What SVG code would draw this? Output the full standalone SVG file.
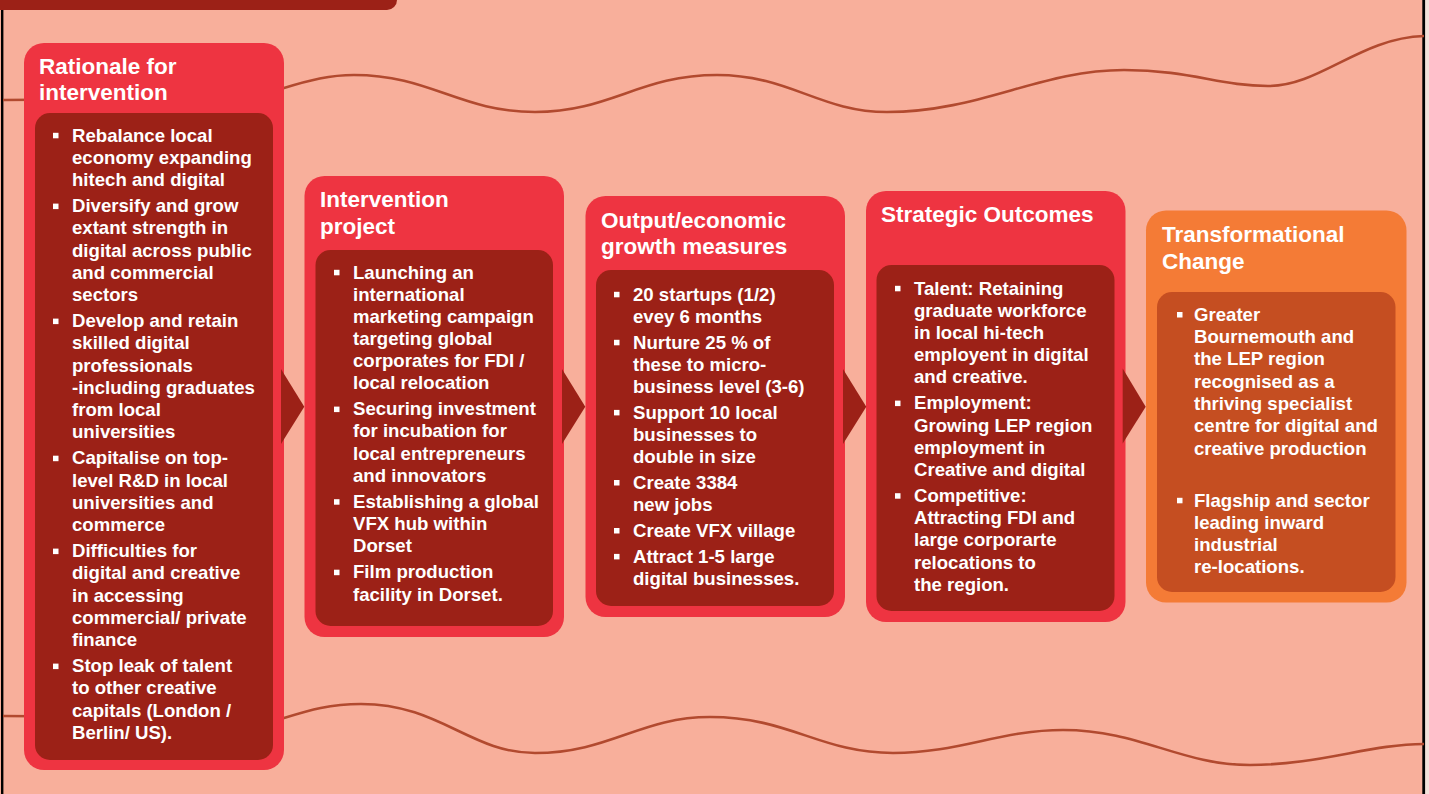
<svg xmlns="http://www.w3.org/2000/svg" width="1429" height="794" viewBox="0 0 1429 794">
<style>
.bg{fill:#F8AF9B}
.wave{fill:none;stroke:#B24A2F;stroke-width:2.6}
.outer{fill:#EE3441}
.inner{fill:#9C2117}
.outerO{fill:#F47B36}
.innerO{fill:#C54E21}
.chev{fill:#9C2117}
.t{font-family:"Liberation Sans",Arial,sans-serif;font-weight:bold;fill:#FFFFFF}
.title{font-size:22.5px}
.b{font-size:18.6px}
.sq{fill:#FFFFFF}
</style>
<rect x="0" y="0" width="1429" height="794" class="bg"/>
<rect x="1424" y="0" width="5" height="794" fill="#F2E1DA"/>
<line x1="2.2" y1="0" x2="2.2" y2="794" stroke="#000" stroke-width="2.4"/>
<line x1="1423.7" y1="0" x2="1423.7" y2="794" stroke="#000" stroke-width="2.8"/>
<path d="M0,0 H397 V0 A10,10 0 0 1 387,10 H0 Z" fill="#9C2117"/>
<g id="waves">
<path class="wave" d="M3,100 C100,100 200,96 284,88 C310,80 330,75 354,75 C430,75 460,112 535,112 C610,112 640,75 717,75 C790,75 820,112 887,112 C980,112 1040,70 1124,70 C1190,70 1220,86 1268,86 C1320,86 1360,38 1424,36"/>
<path class="wave" d="M3,716 C100,716 200,722 284,718 C310,710 330,704 361,704 C440,704 470,753 535,753 C610,753 640,717 710,717 C790,717 820,753 893,753 C960,753 1000,730 1063,730 C1140,730 1180,765 1250,765 C1320,765 1370,744 1424,744"/>
</g>
<g id="node-rationale">
<rect class="outer" x="24" y="43" width="260" height="727" rx="20"/>
<rect class="inner" x="35" y="113" width="238" height="647" rx="15"/>
<text class="t title"><tspan x="39" y="73.5">Rationale for</tspan><tspan x="39" y="100.2">intervention</tspan></text>
<rect class="sq" x="53" y="132.8" width="5.5" height="5.5"/>
<rect class="sq" x="53" y="203.6" width="5.5" height="5.5"/>
<rect class="sq" x="53" y="318.6" width="5.5" height="5.5"/>
<rect class="sq" x="53" y="455.7" width="5.5" height="5.5"/>
<rect class="sq" x="53" y="548.6" width="5.5" height="5.5"/>
<rect class="sq" x="53" y="663.6" width="5.5" height="5.5"/>
<text class="t b"><tspan x="72" y="141.5">Rebalance local</tspan><tspan x="72" y="163.6">economy expanding</tspan><tspan x="72" y="185.7">hitech and digital</tspan><tspan x="72" y="212.3">Diversify and grow</tspan><tspan x="72" y="234.4">extant strength in</tspan><tspan x="72" y="256.5">digital across public</tspan><tspan x="72" y="278.6">and commercial</tspan><tspan x="72" y="300.7">sectors</tspan><tspan x="72" y="327.3">Develop and retain</tspan><tspan x="72" y="349.4">skilled digital</tspan><tspan x="72" y="371.5">professionals</tspan><tspan x="72" y="393.6">-including graduates</tspan><tspan x="72" y="415.7">from local</tspan><tspan x="72" y="437.8">universities</tspan><tspan x="72" y="464.4">Capitalise on top-</tspan><tspan x="72" y="486.5">level R&amp;D in local</tspan><tspan x="72" y="508.6">universities and</tspan><tspan x="72" y="530.7">commerce</tspan><tspan x="72" y="557.3">Difficulties for</tspan><tspan x="72" y="579.4">digital and creative</tspan><tspan x="72" y="601.5">in accessing</tspan><tspan x="72" y="623.6">commercial/ private</tspan><tspan x="72" y="645.7">finance</tspan><tspan x="72" y="672.3">Stop leak of talent</tspan><tspan x="72" y="694.4">to other creative</tspan><tspan x="72" y="716.5">capitals (London /</tspan><tspan x="72" y="738.6">Berlin/ US).</tspan></text>
</g>
<g id="node-intervention">
<rect class="outer" x="304.5" y="176" width="259.5" height="461" rx="20"/>
<rect class="inner" x="315.5" y="250" width="237.5" height="376" rx="15"/>
<text class="t title"><tspan x="320" y="207">Intervention</tspan><tspan x="320" y="233.7">project</tspan></text>
<rect class="sq" x="334" y="269.8" width="5.5" height="5.5"/>
<rect class="sq" x="334" y="406.6" width="5.5" height="5.5"/>
<rect class="sq" x="334" y="499.2" width="5.5" height="5.5"/>
<rect class="sq" x="334" y="569.7" width="5.5" height="5.5"/>
<text class="t b"><tspan x="353" y="278.5">Launching an</tspan><tspan x="353" y="300.6">international</tspan><tspan x="353" y="322.7">marketing campaign</tspan><tspan x="353" y="344.8">targeting global</tspan><tspan x="353" y="366.9">corporates for FDI /</tspan><tspan x="353" y="389">local relocation</tspan><tspan x="353" y="415.3">Securing investment</tspan><tspan x="353" y="437.4">for incubation for</tspan><tspan x="353" y="459.5">local entrepreneurs</tspan><tspan x="353" y="481.6">and innovators</tspan><tspan x="353" y="507.9">Establishing a global</tspan><tspan x="353" y="530">VFX hub within</tspan><tspan x="353" y="552.1">Dorset</tspan><tspan x="353" y="578.4">Film production</tspan><tspan x="353" y="600.5">facility in Dorset.</tspan></text>
</g>
<g id="node-output">
<rect class="outer" x="585.5" y="196" width="259.5" height="421" rx="20"/>
<rect class="inner" x="596" y="270" width="238" height="336" rx="15"/>
<text class="t title"><tspan x="601" y="227.5">Output/economic</tspan><tspan x="601" y="254.2">growth measures</tspan></text>
<rect class="sq" x="614" y="291.8" width="5.5" height="5.5"/>
<rect class="sq" x="614" y="339.8" width="5.5" height="5.5"/>
<rect class="sq" x="614" y="409.9" width="5.5" height="5.5"/>
<rect class="sq" x="614" y="480" width="5.5" height="5.5"/>
<rect class="sq" x="614" y="528" width="5.5" height="5.5"/>
<rect class="sq" x="614" y="553.9" width="5.5" height="5.5"/>
<text class="t b"><tspan x="633" y="300.5">20 startups (1/2)</tspan><tspan x="633" y="322.6">evey 6 months</tspan><tspan x="633" y="348.5">Nurture 25 % of</tspan><tspan x="633" y="370.6">these to micro-</tspan><tspan x="633" y="392.7">business level (3-6)</tspan><tspan x="633" y="418.6">Support 10 local</tspan><tspan x="633" y="440.7">businesses to</tspan><tspan x="633" y="462.8">double in size</tspan><tspan x="633" y="488.7">Create 3384</tspan><tspan x="633" y="510.8">new jobs</tspan><tspan x="633" y="536.7">Create VFX village</tspan><tspan x="633" y="562.6">Attract 1-5 large</tspan><tspan x="633" y="584.7">digital businesses.</tspan></text>
</g>
<g id="node-strategic">
<rect class="outer" x="866" y="191" width="259.5" height="431" rx="20"/>
<rect class="inner" x="876.5" y="265" width="238" height="346" rx="15"/>
<text class="t title"><tspan x="881" y="222">Strategic Outcomes</tspan></text>
<rect class="sq" x="895" y="285.8" width="5.5" height="5.5"/>
<rect class="sq" x="895" y="400.6" width="5.5" height="5.5"/>
<rect class="sq" x="895" y="493.2" width="5.5" height="5.5"/>
<text class="t b"><tspan x="914" y="294.5">Talent: Retaining</tspan><tspan x="914" y="316.7">graduate workforce</tspan><tspan x="914" y="338.9">in local hi-tech</tspan><tspan x="914" y="361.1">employent in digital</tspan><tspan x="914" y="383.3">and creative.</tspan><tspan x="914" y="409.3">Employment:</tspan><tspan x="914" y="431.5">Growing LEP region</tspan><tspan x="914" y="453.7">employment in</tspan><tspan x="914" y="475.9">Creative and digital</tspan><tspan x="914" y="501.9">Competitive:</tspan><tspan x="914" y="524.1">Attracting FDI and</tspan><tspan x="914" y="546.3">large corporarte</tspan><tspan x="914" y="568.5">relocations to</tspan><tspan x="914" y="590.7">the region.</tspan></text>
</g>
<g id="node-transformational">
<rect class="outerO" x="1146" y="210.5" width="260.5" height="392" rx="20"/>
<rect class="innerO" x="1157" y="292" width="238.5" height="300" rx="15"/>
<text class="t title"><tspan x="1162" y="242">Transformational</tspan><tspan x="1162" y="268.5">Change</tspan></text>
<rect class="sq" x="1177" y="312" width="5.5" height="5.5"/>
<rect class="sq" x="1177" y="497.8" width="5.5" height="5.5"/>
<text class="t b"><tspan x="1194" y="320.7">Greater</tspan><tspan x="1194" y="343">Bournemouth and</tspan><tspan x="1194" y="365.3">the LEP region</tspan><tspan x="1194" y="387.6">recognised as a</tspan><tspan x="1194" y="409.9">thriving specialist</tspan><tspan x="1194" y="432.2">centre for digital and</tspan><tspan x="1194" y="454.5">creative production</tspan><tspan x="1194" y="506.5">Flagship and sector</tspan><tspan x="1194" y="528.8">leading inward</tspan><tspan x="1194" y="551.1">industrial</tspan><tspan x="1194" y="573.4">re-locations.</tspan></text>
</g>
<g id="connectors">
<polygon class="chev" points="281,369 304.3,406.7 281,444"/>
<polygon class="chev" points="562,369 585.3,406.7 562,444"/>
<polygon class="chev" points="843,369 866.3,406.7 843,444"/>
<polygon class="chev" points="1122.7,368.5 1145.7,406.7 1122.7,443.5"/>
</g>
</svg>
